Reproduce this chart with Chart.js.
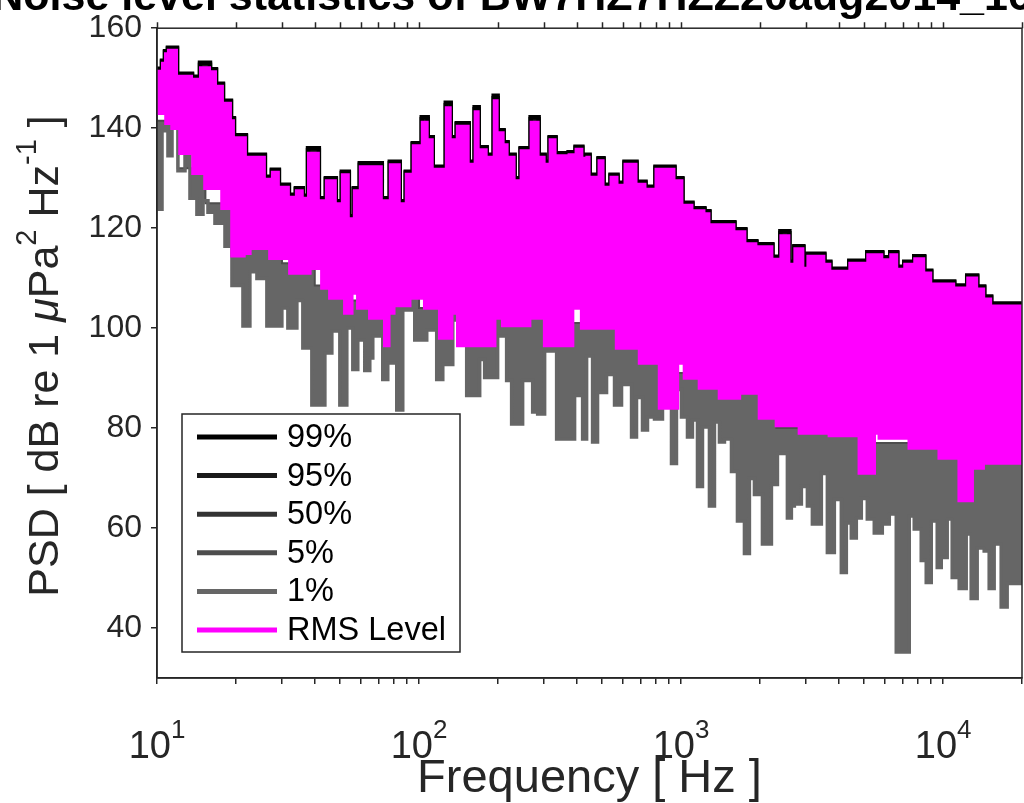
<!DOCTYPE html>
<html>
<head>
<meta charset="utf-8">
<script src="https://cdn.jsdelivr.net/npm/chart.js@4.4.1/dist/chart.umd.min.js"></script>
<style>
  html, body { margin: 0; padding: 0; background: #fff; }
  #wrap { width: 1024px; height: 803px; }
</style>
</head>
<body>
<div id="wrap"><canvas id="psd" width="1024" height="803"></canvas></div>
<script>
// axis limits and tick positions
const xMin = 10, xMax = 20000;
const yMin = 30, yMax = 160;
const yTicks = [40, 60, 80, 100, 120, 140, 160];
const xTicks = [10, 20, 30, 40, 50, 60, 70, 80, 90,
                100, 200, 300, 400, 500, 600, 700, 800, 900,
                1000, 2000, 3000, 4000, 5000, 6000, 7000, 8000, 9000,
                10000, 20000];
const xDecades = [10, 100, 1000, 10000];

// upper percentiles and RMS peak level, step start frequencies (Hz)
const fTop = [10, 10.45, 10.73, 11.01, 11.92, 13.6, 14.59, 15.93, 16.79, 17.85,
  19.15, 19.66, 21.84, 25.8, 27.44, 29.18, 31.86, 33.88, 36.0, 37.7,
  41.46, 44.1, 48.13, 50.74, 53.95, 56.37, 59.41, 72.08, 77.33, 84.4,
  88.97, 94.62, 102.4, 107.9, 112.8, 126.5, 132.1, 139.3, 154.7, 163,
  168.9, 181.2, 192.7, 199.5, 210.3, 217.8, 231.6, 244.1, 266.6, 286,
  301.5, 315, 332, 372.1, 395.7, 420, 435, 447.6, 484.2, 506,
  538, 572.1, 608.3, 676, 731.5, 798.7, 943.7, 1012, 1105, 1228,
  1283, 1598, 1760, 1938, 2231, 2393, 2590, 2706, 2929, 3034,
  3522, 3712, 4386, 5136, 5860, 6285, 6683, 7106, 7759, 8472,
  9009, 11023, 12359, 13490, 14346, 15255, 17095, 20000];
const p99 = [148.0, 151.9, 153.5, 155.4, 156.1, 150.9, 150.3, 153.1, 151.8, 148.9,
  145.5, 142.0, 138.6, 134.7, 130.3, 131.7, 128.7, 126.7, 128.0, 126.5,
  136.0, 126.0, 130.0, 125.4, 131.3, 122.4, 128.0, 133.0, 126.0, 133.3,
  125.4, 131.3, 137.0, 142.2, 138.2, 132.3, 145.1, 138.2, 141.0, 133.3,
  144.2, 136.2, 134.7, 146.5, 139.6, 137.2, 134.7, 130.0, 136.0, 142.2,
  134.7, 133.3, 138.2, 135.0, 135.2, 136.3, 134.5, 134.7, 130.7, 134.0,
  128.7, 130.7, 129.1, 133.3, 129.3, 128.3, 132.3, 130.0, 125.1, 124.0,
  123.4, 121.2, 119.8, 117.4, 116.8, 114.3, 119.4, 113.3, 116.4, 112.5,
  114.9, 113.3, 111.9, 113.5, 115.2, 114.2, 115.2, 112.3, 113.3, 114.4,
  111.5, 109.3, 108.5, 110.5, 108.3, 106.3, 104.9, 104.9];
const p95 = [147.8, 151.7, 153.3, 155.2, 155.9, 150.7, 150.1, 152.7, 151.6, 148.7,
  145.3, 141.8, 138.4, 134.5, 130.1, 131.5, 128.5, 126.5, 127.8, 126.3,
  135.6, 125.8, 129.8, 125.2, 131.0, 122.2, 127.8, 132.7, 125.8, 133.0,
  125.2, 131.1, 136.8, 141.8, 138.0, 132.1, 144.6, 138.0, 140.8, 133.1,
  143.8, 136.0, 134.5, 146.0, 139.4, 137.0, 134.5, 129.8, 135.8, 141.8,
  134.5, 133.1, 138.0, 134.8, 135.0, 136.1, 134.3, 134.5, 130.5, 133.8,
  128.5, 130.5, 128.9, 133.1, 129.1, 128.1, 132.1, 129.8, 124.9, 123.8,
  123.2, 121.0, 119.6, 117.2, 116.6, 114.1, 119.0, 113.1, 116.2, 112.3,
  114.7, 113.1, 111.7, 113.3, 115.0, 114.0, 115.0, 112.1, 113.1, 114.2,
  111.3, 109.1, 108.3, 110.3, 108.1, 106.1, 104.7, 104.7];
const rmsTop = [147.6, 151.5, 153.1, 155.0, 155.7, 150.5, 149.9, 152.2, 151.4, 148.5,
  145.1, 141.6, 138.2, 134.3, 129.9, 131.3, 128.3, 126.3, 127.6, 126.1,
  135.1, 125.6, 129.6, 125.0, 130.8, 122.0, 127.6, 132.4, 125.6, 132.8,
  125.0, 130.9, 136.6, 141.3, 137.8, 131.9, 144.2, 137.8, 140.5, 132.9,
  143.4, 135.8, 134.3, 145.6, 139.2, 136.8, 134.3, 129.6, 135.6, 141.3,
  134.3, 132.9, 137.8, 134.6, 134.8, 135.9, 134.1, 134.3, 130.3, 133.6,
  128.3, 130.3, 128.7, 132.9, 128.9, 127.9, 131.9, 129.6, 124.7, 123.6,
  123.0, 120.8, 119.4, 117.0, 116.4, 113.9, 118.6, 112.9, 116.0, 112.1,
  114.5, 112.9, 111.5, 113.1, 114.8, 113.8, 114.8, 111.9, 112.9, 114.0,
  111.1, 108.9, 108.1, 110.1, 107.9, 105.9, 104.5, 104.5];

// lower edge of the RMS level spread
const fRms = [10, 10.82, 11.41, 12.24, 13.72, 15.24, 17.7, 19.32, 21.47, 22.62,
  26.97, 32.14, 38.31, 42.57, 45.67, 52.09, 55.39, 58.38, 64.87, 74.0,
  76.66, 80.1, 92.15, 105.1, 119.9, 133.3, 140.5, 194.4, 208.5, 264.3,
  301.5, 385.5, 417.3, 567.1, 694, 827.3, 968.9, 1030, 1175, 1401,
  1670, 1991, 2311, 2828, 3680, 4788, 5461, 5708, 7427, 9663,
  11517, 12911, 14222, 16367, 20000];
const rmsLow = [144.5, 143, 141, 140, 135, 131, 128, 124, 114.5, 115,
  116, 114, 111, 112, 108, 106, 103, 107, 104, 102,
  96.5, 103, 104.5, 106, 104, 98, 103, 96.5, 102, 100.5,
  102, 96.5, 104, 100, 96, 93, 84, 93, 90, 88,
  86, 87, 82, 80.5, 79, 78.5, 71, 79, 78, 76,
  74, 65.5, 72, 73, 73];

// median and 5% (mostly under the RMS spread)
const fMid = [10, 12, 15.3, 19.7, 25, 30, 40, 52, 70, 100, 150, 200, 300,
  567, 694, 827, 1175, 1400, 1991, 2311, 5461, 9663, 11517, 20000];
const p50 = [146.5, 146, 140, 132, 124, 121, 117.5, 114, 113, 117, 117, 116, 115,
  114, 112, 110, 107, 104, 102, 98, 95, 92, 90, 90];
const p5 = [145.5, 141.5, 132, 125, 117, 117, 113, 108.5, 105.5, 107, 104, 103, 105,
  101, 97, 94, 91, 89, 88, 83, 80, 77, 75, 75];

// 1% level
const fLow = [10, 10.45, 11.01, 11.41, 12.02, 12.79, 13.36, 14.2, 14.98, 15.65,
  16.64, 18.17, 19.32, 21.28, 22.62, 24.06, 26.26, 29.96, 31.58, 34.18,
  36.02, 38.99, 43.72, 46.48, 49.86, 53.01, 55.88, 58.38, 62.08, 64.87,
  66.6, 72.71, 75.98, 82.22, 86.67, 96.3, 107, 116.8, 123.2, 134.5,
  145.5, 152, 170.4, 178, 199.5, 215.9, 225.6, 248.5, 271.4, 283.6,
  301.5, 335, 392.3, 421, 436, 459.5, 480, 519.5, 557.2, 592.6,
  647.1, 676, 712.5, 744.5, 791.7, 849.3, 919.2, 960.4, 1003.5, 1057.8,
  1105, 1155, 1207, 1283, 1341, 1401, 1464, 1557, 1641, 1745,
  1823, 1905, 2044, 2212, 2332, 2545, 2636, 2706, 2878, 3034,
  3170, 3430, 3616, 3845, 4088, 4272, 4463, 4664, 4873, 5136,
  5461, 5860, 6231, 6625, 7427, 7759, 8250, 8621, 9009, 9496,
  9835, 10366, 10831, 11517, 12249, 12798, 13490, 14346, 14990, 15660,
  16656, 17556, 18668, 20000];
const p1 = [128.1, 123.8, 139.5, 134.5, 141, 131.5, 136, 126, 122.8, 125.5,
  123.2, 121, 116.4, 108.5, 100.4, 111.3, 109.9, 100.4, 104, 100,
  105.5, 96, 84.6, 95, 99.4, 84.6, 100, 91.7, 97.6, 91.5,
  94, 98.4, 89.7, 93, 83.6, 103.6, 97.6, 99.6, 89.7, 92.7,
  101.6, 100.6, 86.5, 93.7, 90.1, 98.4, 89.5, 80.8, 89.5, 83.2,
  82.8, 95.4, 77.8, 86.5, 77.8, 94.4, 77.2, 87.1, 90.7, 84.6,
  88.7, 78.2, 86.1, 79.6, 82.2, 81.8, 84.6, 72.9, 87.7, 82.2,
  78.2, 81.6, 68.3, 80.2, 64.4, 81.2, 77.2, 77.8, 71.3, 61.4,
  54.9, 69.9, 66.7, 56.8, 68.7, 74.9, 62, 64.4, 64.8, 68.3,
  64.4, 60.8, 70.9, 55.1, 65.7, 51.1, 61, 58, 62, 65.9,
  61.8, 59, 60.8, 62.8, 35.2, 62.4, 59.8, 53.5, 49.1, 61.4,
  52.1, 54.1, 61.8, 50.1, 47.9, 58.8, 45.9, 56, 55.4, 47.9,
  56.8, 44.2, 48.9, 48.9];

const AXIS = '#262626';
const FONT = "'Liberation Sans', Arial, Helvetica, sans-serif";
const LEGEND_ITEMS = 6;

const pts = (fs, vs) => fs.map((f, i) => ({ x: f, y: vs[i] }));

function stepLine(label, fs, vs, color, extra) {
  return Object.assign({
    label,
    data: pts(fs, vs),
    borderColor: color,
    backgroundColor: color,
    borderWidth: 3.5,
    stepped: 'after',
    pointRadius: 0,
    fill: false,
    clip: 0
  }, extra);
}

const datasets = [
  stepLine('99%', fTop, p99, '#000000', { order: 3, borderWidth: 4.5 }),
  stepLine('95%', fTop, p95, '#1a1a1a', { order: 4, borderWidth: 4.5 }),
  stepLine('50%', fMid, p50, '#333333', { order: 5 }),
  stepLine('5%', fMid, p5, '#4d4d4d', { order: 7, borderWidth: 2, fill: { target: 4 }, backgroundColor: '#666666' }),
  stepLine('1%', fLow, p1, '#666666', { order: 6 }),
  stepLine('RMS Level', fTop, rmsTop, '#ff00ff', { order: 1, borderWidth: 2, fill: { target: 6 } }),
  stepLine('RMS floor', fRms, rmsLow, '#ff00ff', { order: 2 })
];

// text helpers: runs of normal / superscript / italic pieces
function pieceFont(p, size) {
  const s = p.sup ? Math.round(size * 0.68) : size;
  return (p.italic ? 'italic ' : '') + (p.bold ? 'bold ' : '') + s + 'px ' + FONT;
}
function runWidth(ctx, parts, size) {
  let w = 0;
  for (const p of parts) { ctx.font = pieceFont(p, size); w += ctx.measureText(p.t).width; }
  return w;
}
function drawRun(ctx, parts, x, y, size) {
  for (const p of parts) {
    ctx.font = pieceFont(p, size);
    ctx.fillText(p.t, x, p.sup ? y - size * 0.52 : y);
    x += ctx.measureText(p.t).width;
  }
}

const decor = {
  id: 'decor',
  afterDraw(chart) {
    const { ctx, chartArea: a, scales } = chart;
    ctx.save();

    // box and top ticks
    ctx.strokeStyle = AXIS;
    ctx.lineWidth = 1.5;
    ctx.strokeRect(a.left, a.top, a.right - a.left, a.bottom - a.top);
    ctx.beginPath();
    for (const v of xTicks) {
      const px = Math.round(scales.x.getPixelForValue(v)) + 0.5;
      ctx.moveTo(px, a.top);
      ctx.lineTo(px, a.top - 6);
    }
    ctx.stroke();

    ctx.fillStyle = AXIS;
    ctx.textBaseline = 'alphabetic';
    ctx.textAlign = 'left';

    // decade labels 10^n
    xDecades.forEach(v => {
      const parts = [{ t: '10' }, { t: String(Math.round(Math.log10(v))), sup: true }];
      const w = runWidth(ctx, parts, 38);
      drawRun(ctx, parts, scales.x.getPixelForValue(v) - w / 2, 758, 38);
    });

    // x axis title
    ctx.font = '47px ' + FONT;
    ctx.textAlign = 'center';
    ctx.fillText('Frequency [ Hz ]', (a.left + a.right) / 2, 792);

    // y axis title, rotated
    const yParts = [{ t: 'PSD [ dB re 1 ' }, { t: '\u03bc', italic: true }, { t: 'Pa' },
      { t: '2', sup: true }, { t: ' Hz' }, { t: '-1', sup: true }, { t: ' ]' }];
    ctx.textAlign = 'left';
    const yw = runWidth(ctx, yParts, 43);
    ctx.save();
    ctx.translate(58, 356);
    ctx.rotate(-Math.PI / 2);
    drawRun(ctx, yParts, -yw / 2, 0, 43);
    ctx.restore();

    // chart title (runs off the top of the figure)
    ctx.font = 'bold 43px ' + FONT;
    ctx.textAlign = 'center';
    ctx.fillStyle = '#000';
    ctx.fillText('Noise level statistics of BW7HZ7HZZ20aug2014_16', 512, 10);

    // legend
    const lx = 182, ly = 414, lw = 278, lh = 238;
    ctx.fillStyle = '#fff';
    ctx.fillRect(lx, ly, lw, lh);
    ctx.strokeStyle = AXIS;
    ctx.lineWidth = 1.5;
    ctx.strokeRect(lx, ly, lw, lh);
    ctx.font = '32.5px ' + FONT;
    ctx.textAlign = 'left';
    ctx.textBaseline = 'middle';
    chart.data.datasets.slice(0, LEGEND_ITEMS).forEach((ds, i) => {
      const y = 437 + i * 38.6;
      ctx.strokeStyle = ds.borderColor;
      ctx.lineWidth = 5;
      ctx.beginPath();
      ctx.moveTo(197, y);
      ctx.lineTo(277, y);
      ctx.stroke();
      ctx.fillStyle = '#000';
      ctx.fillText(ds.label, 287, y + 1);
    });

    ctx.restore();
  }
};

new Chart(document.getElementById('psd'), {
  type: 'line',
  data: { datasets },
  options: {
    responsive: false,
    animation: false,
    devicePixelRatio: 1,
    layout: { padding: { top: 21, right: 2, left: 0, bottom: 0 } },
    plugins: {
      legend: { display: false },
      tooltip: { enabled: false },
      title: { display: false }
    },
    scales: {
      x: {
        type: 'logarithmic',
        min: xMin,
        max: xMax,
        afterBuildTicks: s => { s.ticks = xTicks.map(v => ({ value: v })); },
        afterFit: s => { s.height = 125; },
        ticks: { display: false, autoSkip: false },
        grid: { drawOnChartArea: false, drawTicks: true, tickLength: 6, color: AXIS, lineWidth: 1.5 },
        border: { display: true, color: AXIS, width: 1.5 }
      },
      y: {
        type: 'linear',
        min: yMin,
        max: yMax,
        afterBuildTicks: s => { s.ticks = yTicks.map(v => ({ value: v })); },
        afterFit: s => { s.width = 157; },
        ticks: { color: AXIS, padding: 9, font: { family: FONT, size: 32 } },
        grid: { drawOnChartArea: false, drawTicks: true, tickLength: 6, color: AXIS, lineWidth: 1.5 },
        border: { display: true, color: AXIS, width: 1.5 }
      }
    }
  },
  plugins: [decor]
});
</script>
</body>
</html>
